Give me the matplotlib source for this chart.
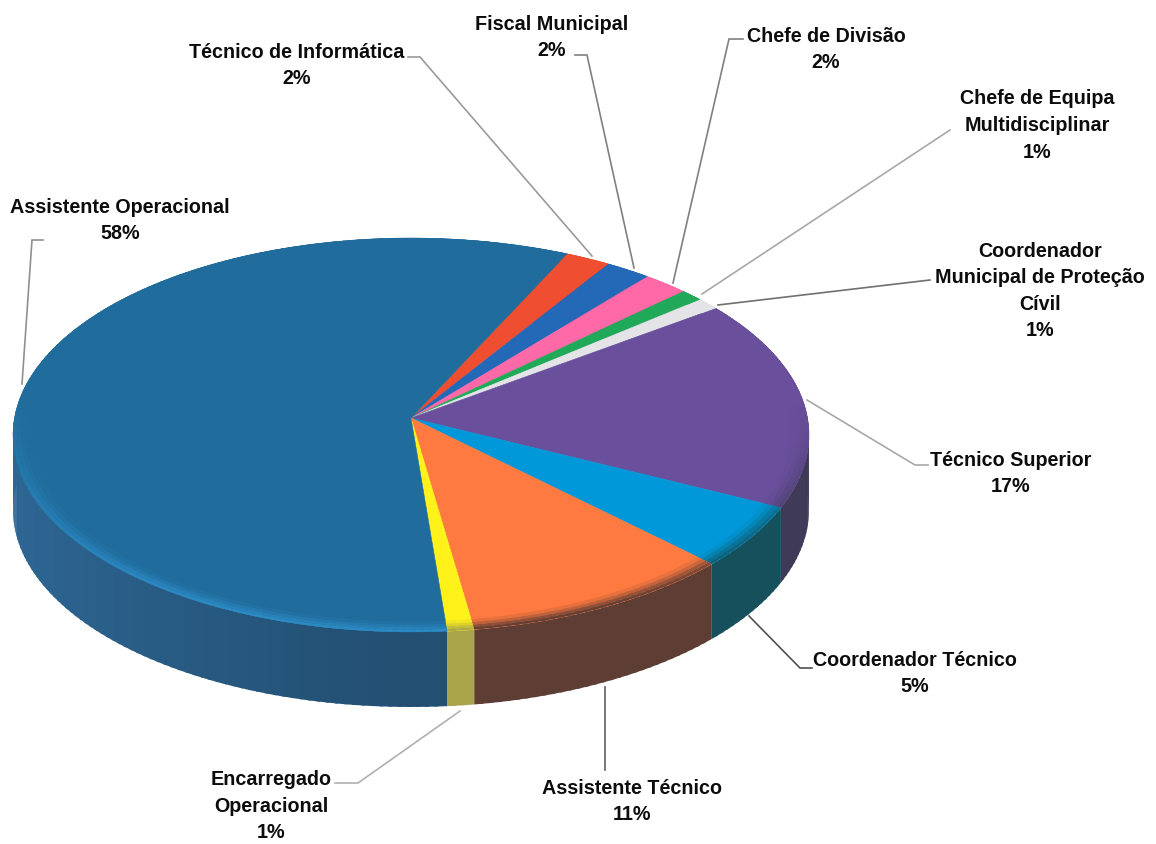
import numpy as np
import matplotlib
matplotlib.use("Agg")
import matplotlib.pyplot as plt
from matplotlib.transforms import Transform
from matplotlib.collections import PolyCollection
from matplotlib.colors import to_rgb

plt.rcParams['font.family'] = ['Liberation Sans', 'DejaVu Sans']

categories = ["Técnico de Informática", "Fiscal Municipal", "Chefe de Divisão",
              "Chefe de Equipa\nMultidisciplinar", "Coordenador\nMunicipal de Proteção\nCívil",
              "Técnico Superior", "Coordenador Técnico", "Assistente Técnico",
              "Encarregado\nOperacional", "Assistente Operacional"]
percent_labels = [2, 2, 2, 1, 1, 17, 5, 11, 1, 58]
values = [2.0, 2.0, 2.0, 1.0, 1.0, 17.3, 5.1, 10.3, 1.0, 58.3]
top_colors = ["#f04e30", "#2468b8", "#ff69a8", "#1fa958", "#e4e4e8",
              "#6a4f9c", "#0098d8", "#ff7a40", "#fff21a", "#206c9c"]
side_colors = ["#8a3020", "#1c4070", "#90406a", "#146a38", "#8a8a8c",
               "#3e3a58", "#15505c", "#5e3d34", "#a9a34a", "#234f72"]
rim_colors = ["#8a3020", "#1c4070", "#90406a", "#146a38", "#8a8a8c",
              "#3e3a58", "#15505c", "#5e3d34", "#a9a34a", "#2c8cc6"]

START = 64.9
CX, CY, AX, AY, K, DEPTH = 411.0, 418.0, 396.5, 195.5, 0.0863, 75.0


def project(u, v):
    u, v = np.asarray(u, float), np.asarray(v, float)
    w = 1 + K * v
    return CX + AX * u / w, CY - AY * v / w


class Persp(Transform):
    input_dims = 2
    output_dims = 2
    is_affine = False
    has_inverse = False

    def transform_non_affine(self, xy):
        xy = np.asarray(xy, float)
        x, y = project(xy[:, 0], xy[:, 1])
        return np.column_stack([x, y])


def mix(a, b, t):
    a, b = np.array(to_rgb(a)), np.array(to_rgb(b))
    return tuple(a * (1 - t) + b * t)


fig = plt.figure(figsize=(11.56, 8.44), dpi=100, facecolor="white")
ax = fig.add_axes([0, 0, 1, 1])

wedges, _ = ax.pie(values, colors=top_colors, startangle=START, counterclock=False,
                   normalize=True, wedgeprops=dict(linewidth=0.4, zorder=3))
persp = Persp() + ax.transData
for w, c in zip(wedges, top_colors):
    w.set_transform(persp)
    w.set_edgecolor(c)
    w.set_clip_on(False)

ax.set_aspect("auto")
ax.set_xlim(0, 1156)
ax.set_ylim(844, 0)
ax.axis("off")

edges = START - 360 * np.concatenate([[0], np.cumsum(values)]) / np.sum(values)

side_polys, side_fc, rim_polys, rim_fc = [], [], [], []
rim_radii = [0.955, 0.968, 0.979, 0.99, 1.0]
step = np.radians(1.0)
for i in range(len(values)):
    n = max(3, int(abs(edges[i] - edges[i + 1]) / 1.2))
    th = np.radians(np.linspace(edges[i], edges[i + 1], n + 1))
    for k, (a, b) in enumerate(zip(th[:-1], th[1:])):
        # each quad runs a little under the next one so no seam shows
        b_over = b if k == n - 1 else b - step * 0.5
        x0, y0 = project(np.cos(a), np.sin(a))
        x1, y1 = project(np.cos(b_over), np.sin(b_over))
        side_polys.append([(x0, y0), (x1, y1), (x1, y1 + DEPTH), (x0, y0 + DEPTH)])
        m = (a + b) / 2
        light = 1 + 0.3 * max(0.0, -np.cos(m)) ** 1.2
        side_fc.append(tuple(np.clip(np.array(to_rgb(side_colors[i])) * light, 0, 1)))
        front = np.clip(-np.sin(m) + 0.1, 0, 1)
        for j, (r0, r1) in enumerate(zip(rim_radii[:-1], rim_radii[1:])):
            t = front * [0.15, 0.4, 0.7, 0.95][j]
            pts = []
            for r, ang in ((r0, a), (r0, b_over), (r1, b_over), (r1, a)):
                pts.append(tuple(float(p) for p in project(r * np.cos(ang), r * np.sin(ang))))
            rim_polys.append(pts)
            rim_fc.append(mix(top_colors[i], rim_colors[i], t))

ax.add_collection(PolyCollection(side_polys, facecolors=side_fc, edgecolors="none",
                                 linewidths=0, zorder=2))
ax.add_collection(PolyCollection(rim_polys, facecolors=rim_fc, edgecolors="none",
                                 linewidths=0, zorder=4))

leaders = [
    ([408, 420, 592], [57, 57, 256], "#9a9a9a"),
    ([575, 587, 634], [55, 55, 268], "#808080"),
    ([743, 729, 673], [39, 39, 283], "#808080"),
    ([950, 702], [130, 294], "#a8a8a8"),
    ([930, 718], [280, 305], "#707070"),
    ([807, 915, 928], [400, 465, 465], "#a8a8a8"),
    ([749, 800, 812], [616, 668, 668], "#505050"),
    ([605, 605], [687, 770], "#606060"),
    ([460, 358, 335], [711, 783, 783], "#b0b0b0"),
    ([22, 32, 43], [384, 240, 240], "#909090"),
]
for xs, ys, c in leaders:
    ax.plot(xs, ys, color=c, lw=1.2, zorder=5, solid_joinstyle="miter")

label_pos = [(297, 65.5), (552, 37.5), (826, 49.5), (1037, 125.5), (1040, 291),
             (1011, 473.5), (915, 673.5), (632, 801.5), (271, 806), (120, 220.5)]
for name, pct, (x, y) in zip(categories, percent_labels, label_pos):
    ax.text(x, y, f"{name}\n{pct}%", ha="center", va="center", fontsize=14.2,
            fontweight="bold", color="#0c0c0c", linespacing=1.5, zorder=6)

fig.savefig("out.png", dpi=100, facecolor="white")
